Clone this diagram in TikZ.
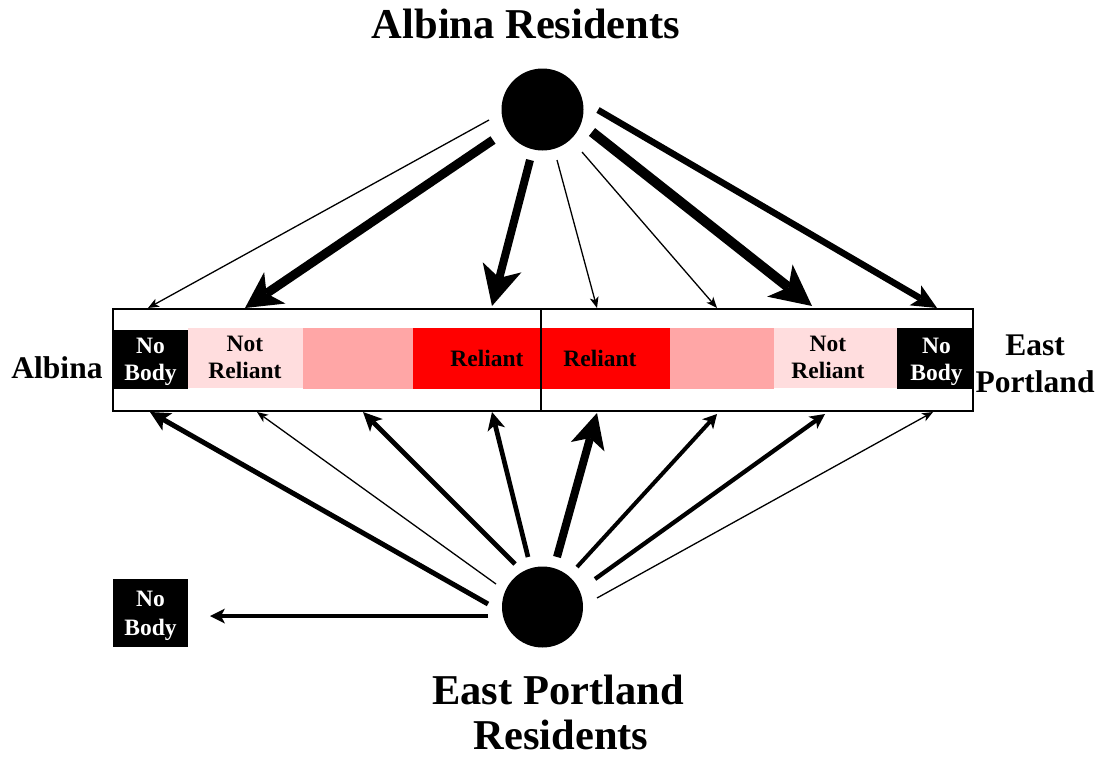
\documentclass[tikz,border=0pt]{standalone}
\usepackage{fontspec}
\setmainfont{Liberation Serif}
\usetikzlibrary{arrows.meta}
\definecolor{medpink}{RGB}{255,166,166}
\definecolor{lightpink}{RGB}{255,221,222}
\definecolor{barred}{RGB}{255,0,0}
\begin{document}
\begin{tikzpicture}[x=1pt,y=-1pt,
  dot/.style={circle,fill=black,inner sep=0pt,minimum size=#1},
  lbl/.style={anchor=base,inner sep=0pt,font=\bfseries\fontsize{23.5}{26}\selectfont},
  wlbl/.style={lbl,text=white},
  side/.style={anchor=base,inner sep=0pt,font=\bfseries\fontsize{31.5}{36}\selectfont},
  ttl/.style={anchor=base,inner sep=0pt,font=\bfseries\fontsize{42.5}{46}\selectfont},
  strip/.style={anchor=north west,inner sep=0pt,outer sep=0pt,draw=none},
  thin/.style={line width=1.3pt,-{Stealth[length=11pt,width=9pt,inset=3pt,line width=0pt]}},
  flow/.style n args={4}{line width=#1,-{Stealth[length=#2,width=#3,inset=#4,line width=0pt]}}
]
\useasboundingbox (0,0) rectangle (1102,758);

% titles and side labels
\node[ttl] (ttop) at (526,38.5) {Albina Residents};
\node[ttl] (tbot1) at (558,704.5) {East Portland};
\node[ttl] (tbot2) at (561,749) {Residents};
\node[side] (albina) at (57,378) {Albina};
\node[side] (east) at (1035,355) {East};
\node[side] (portland) at (1035,392) {Portland};

% circles
\node[dot=82pt] (top) at (542.5,109.5) {};
\node[dot=81pt] (bot) at (542.5,607) {};

% bar strips
\node[strip,fill=black,minimum width=75pt,minimum height=59pt] (lnb) at (113,330) {};
\node[strip,fill=lightpink,minimum width=115pt,minimum height=60pt] (lnr) at (188,328) {};
\node[strip,fill=medpink,minimum width=110pt,minimum height=61pt] (lmp) at (303,328) {};
\node[strip,fill=barred,minimum width=257pt,minimum height=61pt] (red) at (413,328) {};
\node[strip,fill=medpink,minimum width=104pt,minimum height=61pt] (rmp) at (670,328) {};
\node[strip,fill=lightpink,minimum width=123pt,minimum height=60pt] (rnr) at (774,328) {};
\node[strip,fill=black,minimum width=76pt,minimum height=61pt] (rnb) at (897,328) {};

% bar frame and divider
\node[strip,draw=black,line width=1.3pt,minimum width=860pt,minimum height=102pt] (bar) at (113,309) {};
\coordinate (divtop) at (541,309);
\coordinate (divbot) at (541,411);
\draw[line width=1.3pt] (divtop) -- (divbot);

% bar labels
\node[wlbl] (lno) at (150.5,353) {No};
\node[wlbl] (lbody) at (150.5,380) {Body};
\node[lbl] (lnot) at (245,351.5) {Not};
\node[lbl] (lrel) at (245,378) {Reliant};
\node[lbl] (lreliant) at (487,366.5) {Reliant};
\node[lbl] (rreliant) at (600,366.5) {Reliant};
\node[lbl] (rnot) at (828,351.5) {Not};
\node[lbl] (rrel) at (828,378) {Reliant};
\node[wlbl] (rno) at (936.5,353) {No};
\node[wlbl] (rbody) at (936.5,380) {Body};

% separate No Body box
\node[strip,fill=black,minimum width=75pt,minimum height=68pt] (nbbox) at (113,579) {};
\node[wlbl] (nbno) at (150.5,606.7) {No};
\node[wlbl] (nbbody) at (150.5,635) {Body};

% top arrow coordinates
\coordinate (t1s) at (489,120);  \coordinate (t1e) at (148,308);
\coordinate (t2s) at (493,140);  \coordinate (t2e) at (245,308);
\coordinate (t3s) at (530,160);  \coordinate (t3e) at (492,306);
\coordinate (t4s) at (557,160);  \coordinate (t4e) at (597,308);
\coordinate (t5s) at (582,152);  \coordinate (t5e) at (717,308);
\coordinate (t6s) at (592,132);  \coordinate (t6e) at (812,306);
\coordinate (t7s) at (598,110);  \coordinate (t7e) at (937,308);

\draw[thin] (t1s) -- (t1e);
\draw[flow={9pt}{36pt}{38pt}{10pt}] (t2s) -- (t2e);
\draw[flow={8pt}{40pt}{40pt}{11pt}] (t3s) -- (t3e);
\draw[thin] (t4s) -- (t4e);
\draw[thin] (t5s) -- (t5e);
\draw[flow={10pt}{41pt}{41pt}{11pt}] (t6s) -- (t6e);
\draw[flow={6.5pt}{25pt}{23pt}{6pt}] (t7s) -- (t7e);

% bottom arrow coordinates
\coordinate (b1s) at (488,604);  \coordinate (b1e) at (150,412);
\coordinate (b2s) at (496,584);  \coordinate (b2e) at (257,412);
\coordinate (b3s) at (515,564);  \coordinate (b3e) at (363,412);
\coordinate (b4s) at (528,557);  \coordinate (b4e) at (492,412);
\coordinate (b5s) at (557,557);  \coordinate (b5e) at (597,413);
\coordinate (b6s) at (577,567);  \coordinate (b6e) at (717,414);
\coordinate (b7s) at (595,579);  \coordinate (b7e) at (825,414);
\coordinate (b8s) at (597,598);  \coordinate (b8e) at (933,412);
\coordinate (nbs) at (488,616);  \coordinate (nbe) at (210,616);

\draw[flow={5pt}{20pt}{20pt}{5pt}] (b1s) -- (b1e);
\draw[thin] (b2s) -- (b2e);
\draw[flow={4.7pt}{19pt}{18pt}{5pt}] (b3s) -- (b3e);
\draw[flow={4.7pt}{18pt}{18pt}{5pt}] (b4s) -- (b4e);
\draw[flow={8pt}{35pt}{35pt}{9pt}] (b5s) -- (b5e);
\draw[flow={4pt}{14pt}{15pt}{4pt}] (b6s) -- (b6e);
\draw[flow={4.3pt}{15pt}{15pt}{4pt}] (b7s) -- (b7e);
\draw[thin] (b8s) -- (b8e);
\draw[flow={4pt}{15pt}{15pt}{4pt}] (nbs) -- (nbe);
\end{tikzpicture}
\end{document}
